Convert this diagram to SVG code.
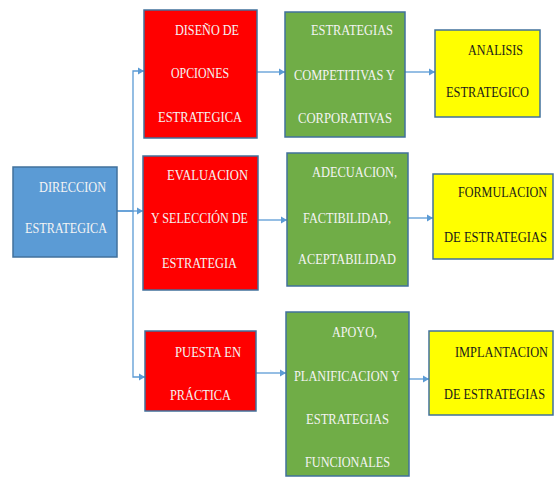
<svg xmlns="http://www.w3.org/2000/svg" width="554" height="477" viewBox="0 0 554 477">
<defs>
<style>
.box{stroke:#41719C;stroke-width:1.5}
.red{fill:#FF0000}.green{fill:#70AD47}.yellow{fill:#FFFF00}.blue{fill:#5B9BD5}
text{font-family:"Liberation Serif","Times New Roman",serif;font-size:15px}
.w{fill:#F4F4F4}.k{fill:#1A1A1A}
.conn{fill:none;stroke:#5B9BD5;stroke-width:1.3}
</style>
<marker id="arr" markerWidth="8" markerHeight="8" refX="6" refY="4" orient="auto" markerUnits="userSpaceOnUse">
<path d="M0,0.5 L6,4 L0,7.5 Z" fill="#5B9BD5"/>
</marker>
</defs>
<rect width="554" height="477" fill="#FFFFFF"/>
<g id="connectors">
<path class="conn" d="M117,211 H133 V71 H144" marker-end="url(#arr)"/>
<path class="conn" d="M117,211 H143" marker-end="url(#arr)"/>
<path class="conn" d="M133,211 V377 H145" marker-end="url(#arr)"/>
<path class="conn" d="M257,72 H285" marker-end="url(#arr)"/>
<path class="conn" d="M405,72 H435" marker-end="url(#arr)"/>
<path class="conn" d="M258,220 H287" marker-end="url(#arr)"/>
<path class="conn" d="M408,218 H433" marker-end="url(#arr)"/>
<path class="conn" d="M256,373 H286" marker-end="url(#arr)"/>
<path class="conn" d="M409,379 H429" marker-end="url(#arr)"/>
</g>
<g id="direccion">
<rect class="box blue" x="13" y="167" width="104" height="90"/>
<text class="w" transform="translate(39,192) scale(0.72,1)" textLength="93.1" lengthAdjust="spacingAndGlyphs">DIRECCION</text>
<text class="w" transform="translate(25,233) scale(0.72,1)" textLength="113.9" lengthAdjust="spacingAndGlyphs">ESTRATEGICA</text>
</g>
<g id="diseno">
<rect class="box red" x="144" y="10" width="113" height="128"/>
<text class="w" transform="translate(175,35) scale(0.72,1)" textLength="88.9" lengthAdjust="spacingAndGlyphs">DISEÑO DE</text>
<text class="w" transform="translate(171,78) scale(0.72,1)" textLength="80.6" lengthAdjust="spacingAndGlyphs">OPCIONES</text>
<text class="w" transform="translate(158,122) scale(0.72,1)" textLength="116.7" lengthAdjust="spacingAndGlyphs">ESTRATEGICA</text>
</g>
<g id="evaluacion">
<rect class="box red" x="143" y="156" width="115" height="134"/>
<text class="w" transform="translate(167,180) scale(0.72,1)" textLength="112.5" lengthAdjust="spacingAndGlyphs">EVALUACION</text>
<text class="w" transform="translate(151,223) scale(0.72,1)" textLength="134.7" lengthAdjust="spacingAndGlyphs">Y SELECCIÓN DE</text>
<text class="w" transform="translate(162,268) scale(0.72,1)" textLength="104.2" lengthAdjust="spacingAndGlyphs">ESTRATEGIA</text>
</g>
<g id="puesta">
<rect class="box red" x="145" y="331" width="111" height="80"/>
<text class="w" transform="translate(175,357) scale(0.72,1)" textLength="91.7" lengthAdjust="spacingAndGlyphs">PUESTA EN</text>
<text class="w" transform="translate(170,400) scale(0.72,1)" textLength="84.7" lengthAdjust="spacingAndGlyphs">PRÁCTICA</text>
</g>
<g id="competitivas">
<rect class="box green" x="285" y="12" width="120" height="125"/>
<text class="w" transform="translate(311,35) scale(0.72,1)" textLength="113.9" lengthAdjust="spacingAndGlyphs">ESTRATEGIAS</text>
<text class="w" transform="translate(294,80) scale(0.72,1)" textLength="140.3" lengthAdjust="spacingAndGlyphs">COMPETITIVAS Y</text>
<text class="w" transform="translate(298,123) scale(0.72,1)" textLength="130.6" lengthAdjust="spacingAndGlyphs">CORPORATIVAS</text>
</g>
<g id="adecuacion">
<rect class="box green" x="287" y="153" width="121" height="133"/>
<text class="w" transform="translate(312,177) scale(0.72,1)" textLength="118.1" lengthAdjust="spacingAndGlyphs">ADECUACION,</text>
<text class="w" transform="translate(303,223) scale(0.72,1)" textLength="122.2" lengthAdjust="spacingAndGlyphs">FACTIBILIDAD,</text>
<text class="w" transform="translate(298,264) scale(0.72,1)" textLength="136.1" lengthAdjust="spacingAndGlyphs">ACEPTABILIDAD</text>
</g>
<g id="apoyo">
<rect class="box green" x="286" y="312" width="123" height="164"/>
<text class="w" transform="translate(332,337) scale(0.72,1)" textLength="62.5" lengthAdjust="spacingAndGlyphs">APOYO,</text>
<text class="w" transform="translate(294,381) scale(0.72,1)" textLength="147.2" lengthAdjust="spacingAndGlyphs">PLANIFICACION Y</text>
<text class="w" transform="translate(306,424) scale(0.72,1)" textLength="115.3" lengthAdjust="spacingAndGlyphs">ESTRATEGIAS</text>
<text class="w" transform="translate(305,467) scale(0.72,1)" textLength="118.1" lengthAdjust="spacingAndGlyphs">FUNCIONALES</text>
</g>
<g id="analisis">
<rect class="box yellow" x="435" y="30" width="105" height="87"/>
<text class="k" transform="translate(468,55) scale(0.72,1)" textLength="76.4" lengthAdjust="spacingAndGlyphs">ANALISIS</text>
<text class="k" transform="translate(446,97) scale(0.72,1)" textLength="115.3" lengthAdjust="spacingAndGlyphs">ESTRATEGICO</text>
</g>
<g id="formulacion">
<rect class="box yellow" x="433" y="174" width="120" height="85"/>
<text class="k" transform="translate(458,197) scale(0.72,1)" textLength="123.6" lengthAdjust="spacingAndGlyphs">FORMULACION</text>
<text class="k" transform="translate(444,242) scale(0.72,1)" textLength="143.1" lengthAdjust="spacingAndGlyphs">DE ESTRATEGIAS</text>
</g>
<g id="implantacion">
<rect class="box yellow" x="429" y="331" width="124" height="84"/>
<text class="k" transform="translate(455,357) scale(0.72,1)" textLength="129.2" lengthAdjust="spacingAndGlyphs">IMPLANTACION</text>
<text class="k" transform="translate(444,399) scale(0.72,1)" textLength="140.3" lengthAdjust="spacingAndGlyphs">DE ESTRATEGIAS</text>
</g>
</svg>
